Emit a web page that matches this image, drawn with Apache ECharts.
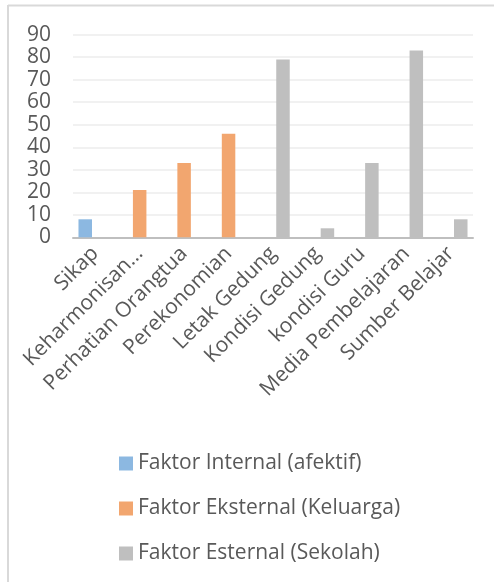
<!DOCTYPE html>
<html lang="en">

<head>
  <meta charset="UTF-8">
  <title>Faktor</title>
  <script src="https://cdn.jsdelivr.net/npm/echarts@6/dist/echarts.min.js"></script>
  <style>
    body { margin: 0; background: #fff; }
    #main { width: 494px; height: 582px; }
  </style>
</head>

<body>
  <div id="main"></div>
  <script>
    // kategori dan nilai tiap seri
    var categories = ['Sikap', 'Keharmonisan…', 'Perhatian Orangtua', 'Perekonomian', 'Letak Gedung',
      'Kondisi Gedung', 'kondisi Guru', 'Media Pembelajaran', 'Sumber Belajar']
    var seriesNames = ['Faktor Internal (afektif)', 'Faktor Eksternal (Keluarga)', 'Faktor Esternal (Sekolah)']
    var internalData = [8, null, null, null, null, null, null, null, null]
    var keluargaData = [null, 21, 33, 46, null, null, null, null, null]
    var sekolahData = [null, null, null, null, 79, 4, 33, 83, 8]
    var yTicks = [0, 10, 20, 30, 40, 50, 60, 70, 80, 90]

    var colors = ['#8cb8e1', '#f2a66f', '#bfbfbf']
    var font = '"Open Sans", sans-serif'

    var mCharts = echarts.init(document.getElementById('main'))
    var dataList = [internalData, keluargaData, sekolahData]
    var series = []
    for (var i = 0; i < 3; i++) {
      series.push({
        name: seriesNames[i],
        type: 'bar',
        data: dataList[i],
        barWidth: 13.5,
        barGap: '-26%',
        itemStyle: { color: colors[i] }
      })
    }

    var option = {
      animation: false,
      color: colors,
      graphic: [
        { type: 'line', shape: { x1: 8, y1: 5.5, x2: 494, y2: 5.5 }, style: { stroke: '#d9d9d9', lineWidth: 2 } },
        { type: 'line', shape: { x1: 8, y1: 5, x2: 8, y2: 582 }, style: { stroke: '#d9d9d9', lineWidth: 2 } }
      ],
      grid: { left: 73, right: 21, top: 34.7, bottom: 344.7 },
      legend: {
        orient: 'vertical',
        left: 114,
        top: 448,
        itemWidth: 14,
        itemHeight: 14,
        itemGap: 24,
        icon: 'rect',
        textStyle: { fontFamily: font, fontSize: 21, color: '#595959' },
        data: seriesNames
      },
      xAxis: {
        type: 'category',
        data: categories,
        axisTick: { show: false },
        axisLine: { lineStyle: { color: '#bfbfbf', width: 2 } },
        axisLabel: {
          rotate: 45,
          interval: 0,
          margin: 13,
          fontFamily: font,
          fontSize: 21,
          color: '#595959'
        }
      },
      yAxis: {
        type: 'value',
        min: yTicks[0],
        max: yTicks[yTicks.length - 1],
        interval: 10,
        axisLine: { show: false },
        axisTick: { show: false },
        splitLine: { lineStyle: { color: '#ececec', width: 1.5 } },
        axisLabel: {
          margin: 22,
          fontFamily: font,
          fontSize: 21,
          color: '#595959'
        }
      },
      series: series
    }
    mCharts.setOption(option)
  </script>
</body>

</html>
